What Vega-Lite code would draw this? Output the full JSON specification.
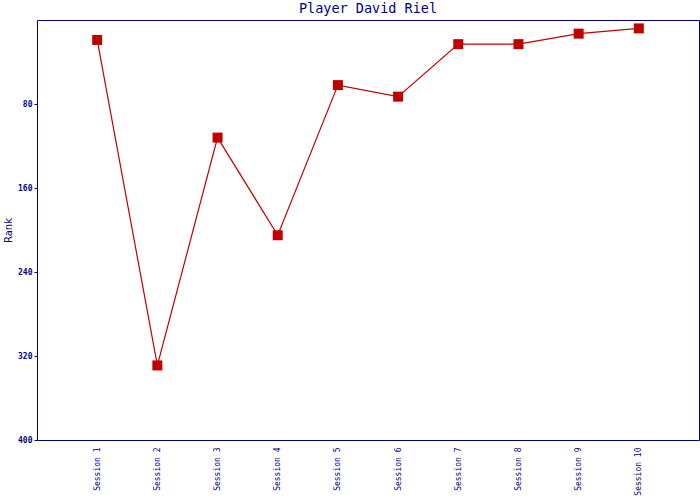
{
  "$schema": "https://vega.github.io/schema/vega-lite/v6.json",
  "width": 662,
  "height": 420,
  "autosize": {"type": "none"},
  "padding": {"left": 37, "top": 20, "right": 1, "bottom": 60},
  "background": "white",
  "title": {
    "text": "Player David Riel",
    "font": "DejaVu Sans Mono",
    "fontSize": 13.5,
    "fontWeight": "normal",
    "color": "#000080",
    "offset": 5
  },
  "config": {
    "view": {"stroke": "#000080", "strokeWidth": 1},
    "axis": {"grid": false, "domain": false}
  },
  "data": {
    "values": [
      {"session": "Session 1", "rank": 19},
      {"session": "Session 2", "rank": 329},
      {"session": "Session 3", "rank": 112},
      {"session": "Session 4", "rank": 205},
      {"session": "Session 5", "rank": 62},
      {"session": "Session 6", "rank": 73},
      {"session": "Session 7", "rank": 23},
      {"session": "Session 8", "rank": 23},
      {"session": "Session 9", "rank": 13},
      {"session": "Session 10", "rank": 8}
    ]
  },
  "encoding": {
    "x": {
      "field": "session",
      "type": "ordinal",
      "sort": null,
      "scale": {"type": "point", "padding": 1},
      "axis": {
        "title": null,
        "ticks": false,
        "labelAngle": -90,
        "labelFont": "DejaVu Sans Mono",
        "labelFontSize": 8,
        "labelColor": "#000080",
        "labelPadding": 7
      }
    },
    "y": {
      "field": "rank",
      "type": "quantitative",
      "scale": {"domain": [0, 400], "reverse": true, "nice": false},
      "axis": {
        "title": "Rank",
        "titleFont": "DejaVu Sans",
        "titleFontSize": 10,
        "titleFontWeight": "normal",
        "titleColor": "#000080",
        "values": [80, 160, 240, 320, 400],
        "labelFont": "DejaVu Sans Mono",
        "labelFontSize": 8,
        "labelFontWeight": "bold",
        "labelColor": "#000080",
        "tickColor": "#000080",
        "tickSize": 3,
        "labelPadding": 2,
        "titlePadding": 4
      }
    }
  },
  "layer": [
    {"mark": {"type": "line", "color": "#C00000", "strokeWidth": 1.2}},
    {"mark": {"type": "square", "color": "#C00000", "size": 100, "opacity": 1}}
  ]
}
